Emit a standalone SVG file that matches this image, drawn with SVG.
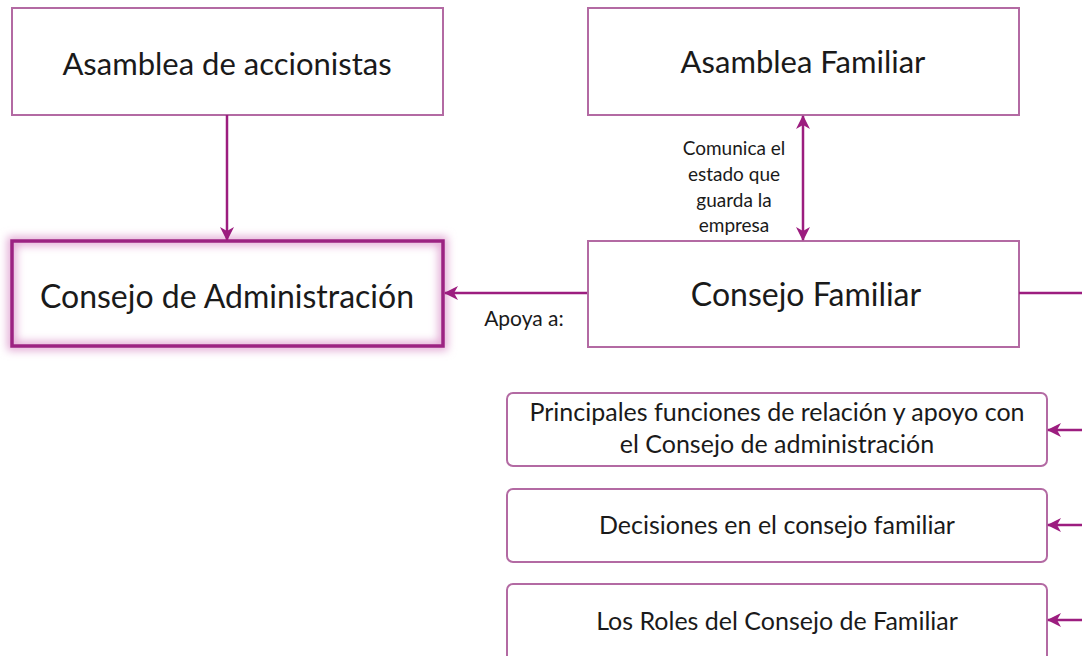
<svg xmlns="http://www.w3.org/2000/svg" width="1082" height="656" viewBox="0 0 1082 656">
<style>
.box{fill:#fff;stroke:#b36aa3;stroke-width:2}
.rbox{fill:#fff;stroke:#b36aa3;stroke-width:2}
.t{font-family:Lato,"Open Sans","DejaVu Sans",sans-serif;fill:#1a1a1a;text-anchor:middle}
.big{font-size:31px}
.big2{font-size:32px}
.mid{font-size:25px}
.sm{font-size:19px}
.conn{stroke:#9c1d7f;stroke-width:2.5;fill:none}
</style>
<defs>
<marker id="ah" viewBox="0 0 14 14" refX="13" refY="7" markerWidth="14" markerHeight="14" markerUnits="userSpaceOnUse" orient="auto-start-reverse">
<path d="M0,0 L14,7 L0,14 L4,7 z" fill="#9c1d7f"/>
</marker>
<filter id="glow" x="-10%" y="-30%" width="120%" height="160%">
<feGaussianBlur stdDeviation="4"/>
</filter>
</defs>
<g id="n-asamblea-accionistas">
<rect class="box" x="12" y="8" width="431" height="107"/>
<text class="t big" x="227" y="75">Asamblea de accionistas</text>
</g>
<g id="n-asamblea-familiar">
<rect class="box" x="588" y="8" width="431" height="107"/>
<text class="t big" x="803" y="73">Asamblea Familiar</text>
</g>
<g id="n-consejo-admin">
<rect x="12" y="241" width="431" height="105" fill="#fff"/>
<rect x="12" y="241" width="431" height="105" fill="none" stroke="#e2a9d4" stroke-width="9" filter="url(#glow)"/>
<rect x="12" y="241" width="431" height="105" fill="none" stroke="#9c2382" stroke-width="3.5"/>
<text class="t big2" x="227" y="308">Consejo de Administración</text>
</g>
<g id="n-consejo-familiar">
<rect class="box" x="588" y="241" width="431" height="106"/>
<text class="t big2" x="806" y="306">Consejo Familiar</text>
</g>
<g id="n-principales">
<rect class="rbox" x="507" y="393" width="540" height="73" rx="6"/>
<text class="t mid" x="777" y="421">Principales funciones de relación y apoyo con</text>
<text class="t mid" x="777" y="453">el Consejo de administración</text>
</g>
<g id="n-decisiones">
<rect class="rbox" x="507" y="489" width="540" height="73" rx="6"/>
<text class="t mid" x="777" y="534">Decisiones en el consejo familiar</text>
</g>
<g id="n-roles">
<rect class="rbox" x="507" y="584" width="540" height="80" rx="6"/>
<text class="t mid" x="777" y="630">Los Roles del Consejo de Familiar</text>
</g>
<g id="connectors">
<line class="conn" x1="227" y1="115" x2="227" y2="240" marker-end="url(#ah)"/>
<line class="conn" x1="803" y1="116" x2="803" y2="240" marker-start="url(#ah)" marker-end="url(#ah)"/>
<line class="conn" x1="587" y1="293" x2="445" y2="293" marker-end="url(#ah)"/>
<line class="conn" x1="1019" y1="293" x2="1082" y2="293"/>
<line class="conn" x1="1082" y1="430" x2="1048" y2="430" marker-end="url(#ah)"/>
<line class="conn" x1="1082" y1="525" x2="1048" y2="525" marker-end="url(#ah)"/>
<line class="conn" x1="1082" y1="620" x2="1048" y2="620" marker-end="url(#ah)"/>
<text class="t sm" x="734" y="155">Comunica el</text>
<text class="t sm" x="734" y="181">estado que</text>
<text class="t sm" x="734" y="207">guarda la</text>
<text class="t sm" x="734" y="232">empresa</text>
<text class="t" style="font-size:21px" x="524" y="326">Apoya a:</text>
</g>
</svg>
